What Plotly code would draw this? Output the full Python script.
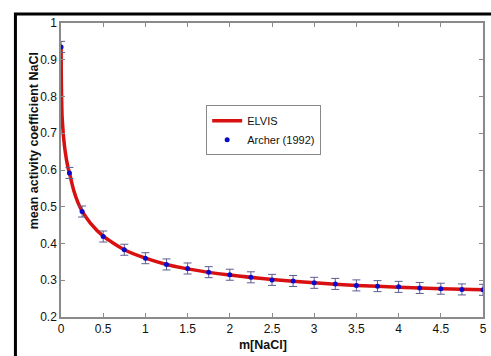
import plotly.graph_objects as go

# Archer (1992) data points
archer_m = [0.001, 0.1, 0.25, 0.5, 0.75, 1.0, 1.25, 1.5, 1.75, 2.0, 2.25, 2.5, 2.75,
            3.0, 3.25, 3.5, 3.75, 4.0, 4.25, 4.5, 4.75, 5.0]
archer_gamma = [0.935, 0.592, 0.487, 0.419, 0.383, 0.360, 0.343, 0.332, 0.322, 0.315,
                0.308, 0.301, 0.298, 0.293, 0.290, 0.286, 0.284, 0.282, 0.279, 0.277,
                0.275, 0.274]
archer_err = [0.015] * len(archer_m)

# ELVIS model curve
elvis_m = [0.001, 0.003, 0.006, 0.012, 0.02, 0.03, 0.05, 0.08, 0.1, 0.15, 0.2, 0.25,
           0.35, 0.5, 0.75, 1.0, 1.25, 1.5, 2.0, 2.5, 3.0, 3.5, 4.0, 4.5, 5.0]
elvis_gamma = [0.935, 0.87, 0.81, 0.75, 0.72, 0.69, 0.65, 0.61, 0.592, 0.545, 0.512,
               0.488, 0.455, 0.420, 0.383, 0.360, 0.343, 0.331, 0.314, 0.302, 0.293,
               0.286, 0.281, 0.277, 0.274]

x_ticks = [0, 0.5, 1, 1.5, 2, 2.5, 3, 3.5, 4, 4.5, 5]
x_tick_labels = ["0", "0.5", "1", "1.5", "2", "2.5", "3", "3.5", "4", "4.5", "5"]
y_ticks = [0.2, 0.3, 0.4, 0.5, 0.6, 0.7, 0.8, 0.9, 1.0]
y_tick_labels = ["0.2", "0.3", "0.4", "0.5", "0.6", "0.7", "0.8", "0.9", "1"]

x_title = "m[NaCl]"
y_title = "mean activity coefficient NaCl"

FONT = "Liberation Sans, Arial"

fig = go.Figure()
fig.add_trace(go.Scatter(
    x=elvis_m, y=elvis_gamma, mode="lines", name="ELVIS",
    line=dict(color="#d81010", width=3.5, shape="spline", smoothing=0.6),
))
fig.add_trace(go.Scatter(
    x=archer_m, y=archer_gamma, mode="markers", name="Archer (1992)",
    marker=dict(color="#0a0acc", size=5),
    error_y=dict(type="data", array=archer_err, visible=True,
                 color="#5c5c90", thickness=1, width=4),
))

axis_common = dict(
    showgrid=False, zeroline=False, showline=True, linecolor="#8a8a8a", linewidth=1.5,
    mirror="ticks", ticks="inside", ticklen=4, tickcolor="#8a8a8a",
    tickfont=dict(family=FONT, size=12, color="#111"),
)

fig.update_layout(
    width=491, height=356,
    margin=dict(l=61, r=4, t=23, b=39),
    paper_bgcolor="white", plot_bgcolor="white",
    showlegend=True,
    legend=dict(x=0.344, y=0.72, xanchor="left", yanchor="top",
                bgcolor="white", bordercolor="#888", borderwidth=1,
                font=dict(family=FONT, size=11, color="#111"),
                tracegroupgap=0, itemwidth=30),
    xaxis=dict(range=[0, 5], tickvals=x_ticks, ticktext=x_tick_labels, **axis_common),
    yaxis=dict(range=[0.2, 1.0], tickvals=y_ticks, ticktext=y_tick_labels, **axis_common),
    annotations=[
        dict(text="<b>" + x_title + "</b>", xref="paper", yref="paper",
             x=(265 - 61) / 426, y=(317 - 345) / 294, xanchor="center", yanchor="middle",
             showarrow=False, font=dict(family=FONT, size=12.5, color="#111")),
        dict(text="<b>" + y_title + "</b>", xref="paper", yref="paper", textangle=-90,
             x=(34 - 61) / 426, y=(317 - 141) / 294, xanchor="center", yanchor="middle",
             showarrow=False, font=dict(family=FONT, size=12.5, color="#111")),
    ],
    shapes=[dict(type="rect", xref="paper", yref="paper",
                 x0=(15 - 61) / 426, x1=1.2, y0=-0.3, y1=(317 - 14) / 294,
                 line=dict(color="black", width=3), layer="above")],
)

fig.write_html("out.html")
